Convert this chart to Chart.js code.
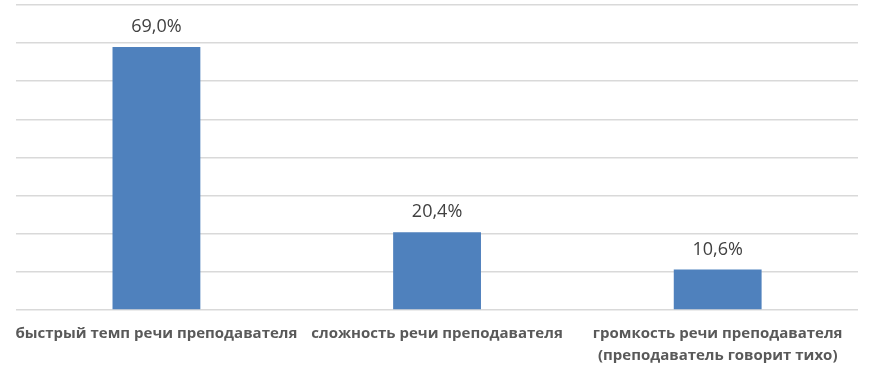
<!DOCTYPE html>
<html>
<head>
<meta charset="utf-8">
<script src="https://cdn.jsdelivr.net/npm/chart.js@4"></script>
<style>
html, body { margin: 0; padding: 0; background: #fff; }
#wrap { width: 870px; height: 373px; }
</style>
</head>
<body>
<div id="wrap"><canvas id="chart" width="870" height="373"></canvas></div>
<script>
const categories = [
    'быстрый темп речи преподавателя',
    'сложность речи преподавателя',
    ['громкость речи преподавателя', '(преподаватель говорит тихо)']
];
const percentValues = [69.0, 20.4, 10.6];

const valueLabels = {
    id: 'valueLabels',
    afterDatasetsDraw(chart) {
        const ctx = chart.ctx;
        const meta = chart.getDatasetMeta(0);
        ctx.save();
        ctx.font = '18px "Open Sans", sans-serif';
        ctx.fillStyle = '#404040';
        ctx.textAlign = 'center';
        ctx.textBaseline = 'alphabetic';
        meta.data.forEach(function (bar, i) {
            const text = percentValues[i].toFixed(1).replace('.', ',') + '%';
            ctx.fillText(text, bar.x, bar.y - 15);
        });
        ctx.restore();
    }
};

const chart = new Chart(document.getElementById('chart').getContext('2d'), {
    type: 'bar',
    data: {
        labels: categories,
        datasets: [{
            data: percentValues,
            backgroundColor: '#4f81bd',
            categoryPercentage: 1,
            barPercentage: 0.313
        }]
    },
    options: {
        responsive: false,
        animation: false,
        layout: { padding: { left: 15, right: 12, top: 5, bottom: -7 } },
        plugins: {
            legend: { display: false },
            tooltip: { enabled: false }
        },
        scales: {
            x: {
                grid: { display: false, drawTicks: false },
                border: { display: false },
                ticks: {
                    color: '#595959',
                    font: { family: '"Open Sans", sans-serif', size: 15, weight: 'bold', lineHeight: 1.47 },
                    padding: 13,
                    maxRotation: 0,
                    autoSkip: false
                }
            },
            y: {
                min: 0,
                max: 80,
                ticks: { display: false, stepSize: 10 },
                border: { display: false },
                grid: { color: '#d9d9d9', lineWidth: 1.5, drawTicks: false }
            }
        }
    },
    plugins: [valueLabels]
});
</script>
</body>
</html>
